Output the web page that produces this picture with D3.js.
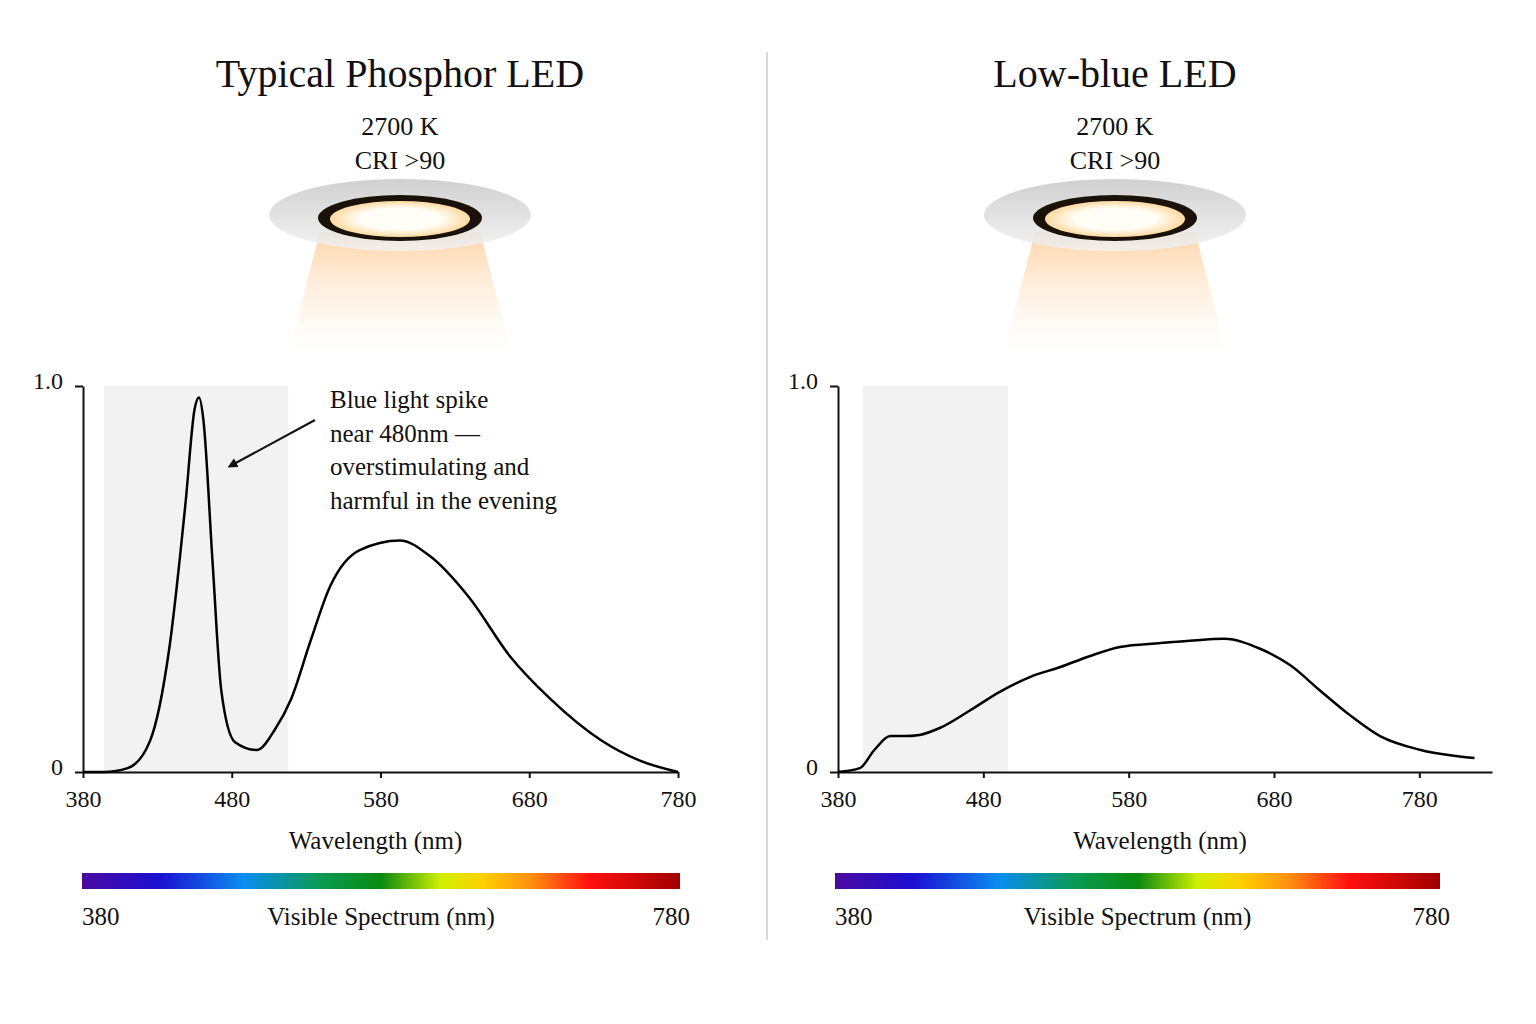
<!DOCTYPE html><html><head><meta charset="utf-8"><script src="https://cdn.jsdelivr.net/npm/d3@7"></script>
<style>body{margin:0;background:#fff}text{font-family:"Liberation Serif","DejaVu Serif",serif;fill:#111}</style></head><body>
<svg id="c" width="1536" height="1024"></svg>
<script>
const titles=["Typical Phosphor LED","Low-blue LED"];
const subtitle1="2700 K", subtitle2="CRI >90";
const ticks=[380,480,580,680,780];
const leftWl=[380,394,410,425,438,449,455,458,461,467,473,482,497,509,520,533,546,566,593,613,640,667,694,728,754,780];
const leftVal=[0,0,0.01,0.08,0.32,0.70,0.94,0.97,0.91,0.55,0.21,0.078,0.057,0.11,0.19,0.34,0.48,0.575,0.60,0.56,0.45,0.30,0.19,0.083,0.03,0];
const rightWl=[380,395,405,416,426,436,450,471,491,512,533,553,574,602,622,646,670,691,712,732,753,781,818];
const rightVal=[0,0.01,0.057,0.093,0.093,0.096,0.114,0.16,0.207,0.246,0.272,0.30,0.324,0.334,0.34,0.345,0.32,0.277,0.21,0.148,0.093,0.057,0.036];
const panels=[
 {cx:400,x0:83,x1:678,dom:[380,780],band:[394,518],wl:leftWl,val:leftVal,bar:[82,680]},
 {cx:1115,x0:838,x1:1492,dom:[380,830],band:[397,497],wl:rightWl,val:rightVal,bar:[835,1440]}];
const svg=d3.select("#c"), defs=svg.append("defs");
const spec=defs.append("linearGradient").attr("id","spec");
[["0","#4b0aa0"],["0.13","#1a10d0"],["0.27","#0a8ef0"],["0.4","#0a9a50"],["0.5","#0a8a10"],["0.6","#d0f000"],["0.67","#ffd000"],["0.75","#ff9010"],["0.85","#ff1010"],["1","#a00000"]].forEach(s=>spec.append("stop").attr("offset",s[0]).attr("stop-color",s[1]));
const beam=defs.append("linearGradient").attr("id","beam").attr("x1",0).attr("y1",0).attr("x2",0).attr("y2",1);
beam.append("stop").attr("offset",0).attr("stop-color","#ffc890").attr("stop-opacity",0.8);
beam.append("stop").attr("offset",1).attr("stop-color","#fff0e0").attr("stop-opacity",0);
const glow=defs.append("radialGradient").attr("id","glow");
glow.append("stop").attr("offset",0.6).attr("stop-color","#fffdf5");
glow.append("stop").attr("offset",1).attr("stop-color","#ffd9a0");
const disc=defs.append("linearGradient").attr("id","disc").attr("x1",0).attr("y1",0).attr("x2",0).attr("y2",1);
disc.append("stop").attr("offset",0).attr("stop-color","#c8c8c8");
disc.append("stop").attr("offset",1).attr("stop-color","#f2f2f2");
svg.append("line").attr("x1",767).attr("x2",767).attr("y1",52).attr("y2",940).attr("stroke","#ccc").attr("stroke-width",1.5);
const y=d3.scaleLinear().domain([0,1]).range([772,386]);
panels.forEach((p,i)=>{
 const c=p.cx;
 svg.append("text").attr("x",c).attr("y",87).attr("text-anchor","middle").attr("font-size",40).text(titles[i]);
 svg.append("text").attr("x",c).attr("y",135).attr("text-anchor","middle").attr("font-size",26).text(subtitle1);
 svg.append("text").attr("x",c).attr("y",169).attr("text-anchor","middle").attr("font-size",26).text(subtitle2);
 // lamp
 svg.append("path").attr("d",`M${c-80},232 L${c+80},232 L${c+112},355 L${c-112},355 Z`).attr("fill","url(#beam)");
 svg.append("ellipse").attr("cx",c).attr("cy",215).attr("rx",131).attr("ry",36).attr("fill","url(#disc)").attr("opacity",0.85);
 svg.append("ellipse").attr("cx",c).attr("cy",218).attr("rx",82).attr("ry",23).attr("fill","#1a1208");
 svg.append("ellipse").attr("cx",c).attr("cy",219).attr("rx",70).attr("ry",18).attr("fill","url(#glow)");
 // chart
 const x=d3.scaleLinear().domain(p.dom).range([p.x0,p.x1]);
 svg.append("rect").attr("x",x(p.band[0])).attr("y",y(1)).attr("width",x(p.band[1])-x(p.band[0])).attr("height",y(0)-y(1)).attr("fill","#f2f2f2");
 const ax=svg.append("g").attr("transform","translate(0,772)").call(d3.axisBottom(x).tickValues(ticks).tickSize(6).tickSizeOuter(0));
 ax.selectAll("text").attr("font-size",24).attr("dy","1.1em").style("font-family","Liberation Serif").attr("fill","#111");
 ax.selectAll("line,path").attr("stroke","#111").attr("stroke-width",2);
 const ay=svg.append("g").attr("transform",`translate(${p.x0},0)`).call(d3.axisLeft(y).tickValues([0,1]).tickFormat(d=>d?"1.0":"0").tickSize(8).tickSizeOuter(0));
 ay.selectAll("text").attr("font-size",24).attr("x",-20).attr("dy","0.1em").style("font-family","Liberation Serif").attr("fill","#111");
 ay.selectAll("line,path").attr("stroke","#111").attr("stroke-width",2);
 const line=d3.line().x((d,j)=>x(p.wl[j])).y(d=>y(d)).curve(d3.curveMonotoneX);
 svg.append("path").attr("d",line(p.val)).attr("fill","none").attr("stroke","#000").attr("stroke-width",2.5);
 svg.append("text").attr("x",(p.x0+p.x1)/2-5).attr("y",849).attr("text-anchor","middle").attr("font-size",25).text("Wavelength (nm)");
 svg.append("rect").attr("x",p.bar[0]).attr("y",873).attr("width",p.bar[1]-p.bar[0]).attr("height",16).attr("fill","url(#spec)");
 svg.append("text").attr("x",p.bar[0]).attr("y",925).attr("font-size",25).text("380");
 svg.append("text").attr("x",p.bar[1]+10).attr("y",925).attr("text-anchor","end").attr("font-size",25).text("780");
 svg.append("text").attr("x",(p.bar[0]+p.bar[1])/2).attr("y",925).attr("text-anchor","middle").attr("font-size",25).text("Visible Spectrum (nm)");
});
// annotation
defs.append("marker").attr("id","ah").attr("viewBox","0 0 10 10").attr("refX",5).attr("refY",5).attr("markerWidth",5).attr("markerHeight",5).attr("orient","auto").append("path").attr("d","M0,0L10,5L0,10Z").attr("fill","#111");
svg.append("line").attr("x1",315).attr("y1",420).attr("x2",232).attr("y2",465).attr("stroke","#111").attr("stroke-width",2).attr("marker-end","url(#ah)");
["Blue light spike","near 480nm —","overstimulating and","harmful in the evening"].forEach((t,k)=>svg.append("text").attr("x",330).attr("y",408+k*33.5).attr("font-size",25).text(t));
</script></body></html>
